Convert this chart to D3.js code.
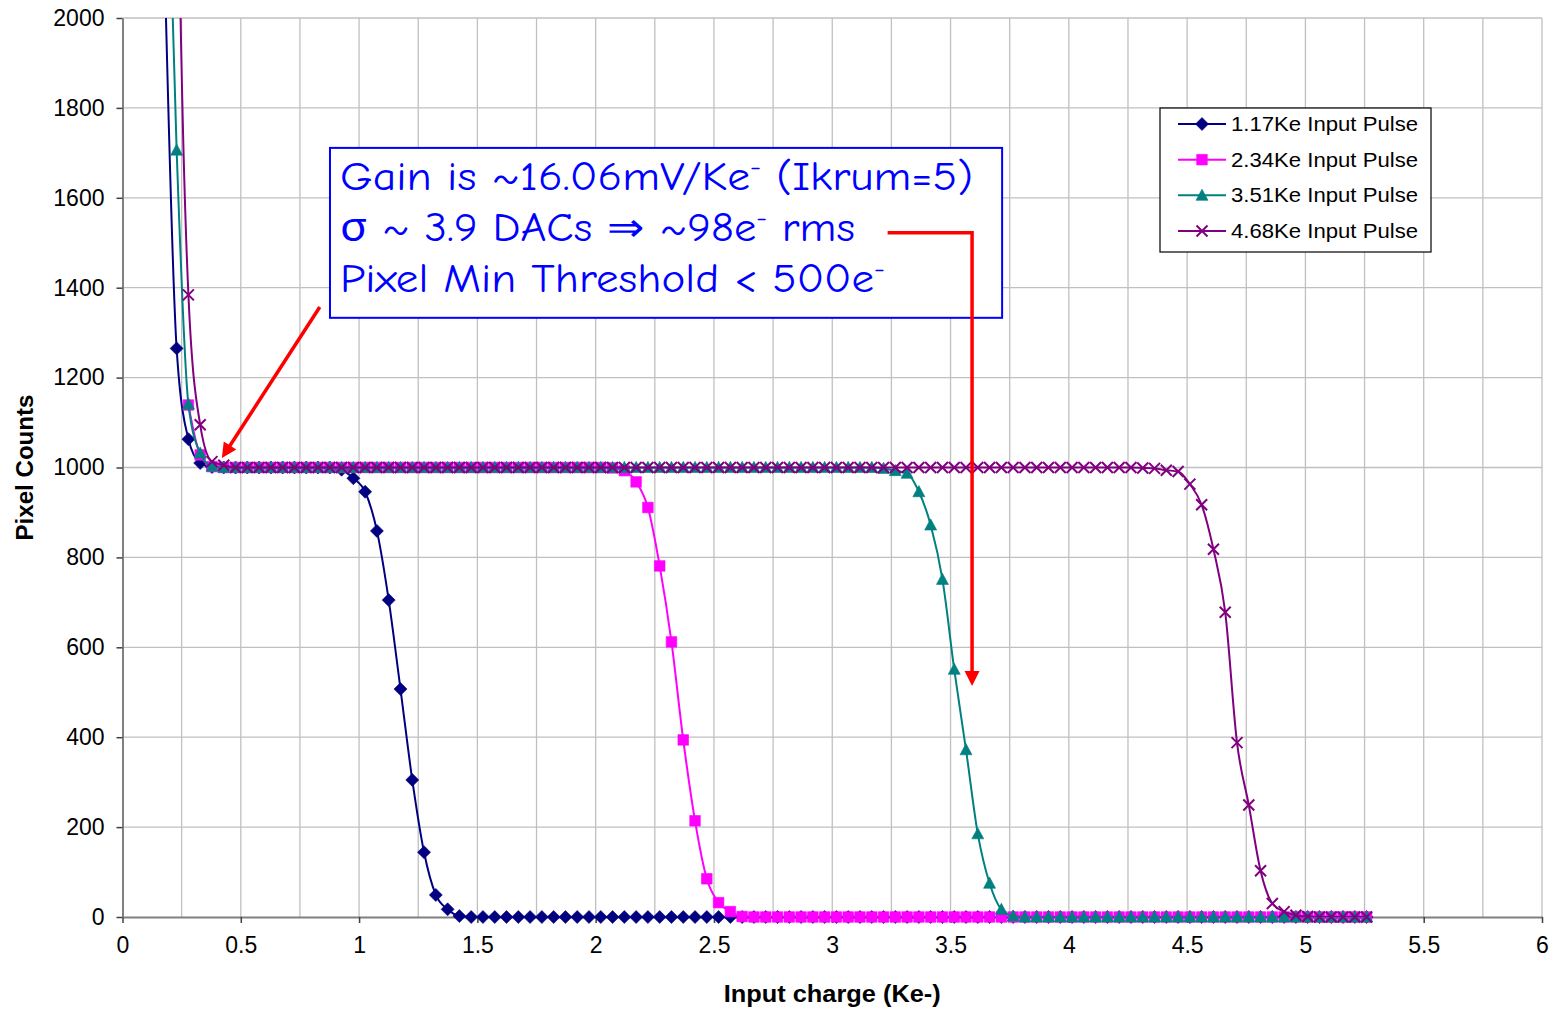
<!DOCTYPE html>
<html>
<head>
<meta charset="utf-8">
<script src="https://cdn.jsdelivr.net/npm/d3@7"></script>
<style>
body { margin: 0; background: #fff; }
text { font-family: "Liberation Sans", Arial, sans-serif; }
</style>
</head>
<body>
<svg id="chart" width="1553" height="1010"></svg>
<script>
// input charge (Ke-) of every scan step
var charge = [
	0.179, 0.2288, 0.2786, 0.3284, 0.3782, 0.428, 0.4778, 0.5276, 0.5774, 0.6272,
	0.677, 0.7268, 0.7766, 0.8264, 0.8762, 0.926, 0.9758, 1.0256, 1.0754, 1.1252,
	1.175, 1.2248, 1.2746, 1.3244, 1.3742, 1.424, 1.4738, 1.5236, 1.5734, 1.6232,
	1.673, 1.7228, 1.7726, 1.8224, 1.8722, 1.922, 1.9718, 2.0216, 2.0714, 2.1212,
	2.171, 2.2208, 2.2706, 2.3204, 2.3702, 2.42, 2.4698, 2.5196, 2.5694, 2.6192,
	2.669, 2.7188, 2.7686, 2.8184, 2.8682, 2.918, 2.9678, 3.0176, 3.0674, 3.1172,
	3.167, 3.2168, 3.2666, 3.3164, 3.3662, 3.416, 3.4658, 3.5156, 3.5654, 3.6152,
	3.665, 3.7148, 3.7646, 3.8144, 3.8642, 3.914, 3.9638, 4.0136, 4.0634, 4.1132,
	4.163, 4.2128, 4.2626, 4.3124, 4.3622, 4.412, 4.4618, 4.5116, 4.5614, 4.6112,
	4.661, 4.7108, 4.7606, 4.8104, 4.8602, 4.91, 4.9598, 5.0096, 5.0594, 5.1092,
	5.159, 5.2088, 5.2586
];

var pulse117 = [
	2100, 1265, 1063, 1010, 1001, 1000, 1000, 1000, 1000, 1000,
	1000, 1000, 1000, 1000, 1000, 995, 976, 946, 859, 705,
	507, 305, 144, 49, 17, 2, 0, 0, 0, 0,
	0, 0, 0, 0, 0, 0, 0, 0, 0, 0,
	0, 0, 0, 0, 0, 0, 0, 0, 0, 0,
	0, 0, 0, 0, 0, 0, 0, 0, 0, 0,
	0, 0, 0, 0, 0, 0, 0, 0, 0, 0,
	0, 0, 0, 0, 0, 0, 0, 0, 0, 0,
	0, 0, 0, 0, 0, 0, 0, 0, 0, 0,
	0, 0, 0, 0, 0, 0, 0, 0, 0, 0,
	0, 0, 0
];

var pulse234 = [
	null, null, 1139, 1028, 1002, 1000, 1000, 1000, 1000, 1000,
	1000, 1000, 1000, 1000, 1000, 1000, 1000, 1000, 1000, 1000,
	1000, 1000, 1000, 1000, 1000, 1000, 1000, 1000, 1000, 1000,
	1000, 1000, 1000, 1000, 1000, 1000, 1000, 1000, 999, 993,
	968, 911, 781, 612, 394, 214, 85, 32, 12, 1,
	0, 0, 0, 0, 0, 0, 0, 0, 0, 0,
	0, 0, 0, 0, 0, 0, 0, 0, 0, 0,
	0, 0, 0, 0, 0, 0, 0, 0, 0, 0,
	0, 0, 0, 0, 0, 0, 0, 0, 0, 0,
	0, 0, 0, 0, 0, 0, 0, 0, 0, 0,
	0, 0, 0
];

var pulse351 = [
	2600, 1706, 1141, 1032, 1003, 1000, 1000, 1000, 1000, 1000,
	1000, 1000, 1000, 1000, 1000, 1000, 1000, 1000, 1000, 1000,
	1000, 1000, 1000, 1000, 1000, 1000, 1000, 1000, 1000, 1000,
	1000, 1000, 1000, 1000, 1000, 1000, 1000, 1000, 1000, 1000,
	1000, 1000, 1000, 1000, 1000, 1000, 1000, 1000, 1000, 1000,
	1000, 1000, 1000, 1000, 1000, 1000, 1000, 1000, 1000, 1000,
	1000, 998, 993, 987, 946, 872, 751, 551, 372, 185,
	75, 17, 2, 0, 0, 0, 0, 0, 0, 0,
	0, 0, 0, 0, 0, 0, 0, 0, 0, 0,
	0, 0, 0, 0, 0, 0, 0, 0, 0, 0,
	0, 0, 0
];

var pulse468 = [
	6000, 2600, 1384, 1095, 1013, 1005, 1000, 1000, 1000, 1000,
	1000, 1000, 1000, 1000, 1000, 1000, 1000, 1000, 1000, 1000,
	1000, 1000, 1000, 1000, 1000, 1000, 1000, 1000, 1000, 1000,
	1000, 1000, 1000, 1000, 1000, 1000, 1000, 1000, 1000, 1000,
	1000, 1000, 1000, 1000, 1000, 1000, 1000, 1000, 1000, 1000,
	1000, 1000, 1000, 1000, 1000, 1000, 1000, 1000, 1000, 1000,
	1000, 1000, 1000, 1000, 1000, 1000, 1000, 1000, 1000, 1000,
	1000, 1000, 1000, 1000, 1000, 1000, 1000, 1000, 1000, 1000,
	1000, 1000, 1000, 999, 998, 994, 991, 963, 917, 818,
	678, 388, 249, 103, 30, 12, 4, 1, 0, 0,
	0, 0, 0
];

var seriesNames = ["1.17Ke Input Pulse", "2.34Ke Input Pulse", "3.51Ke Input Pulse", "4.68Ke Input Pulse"];
var seriesValues = [pulse117, pulse234, pulse351, pulse468];
var seriesColors = ["#000080", "#FF00FF", "#008080", "#800080"];
var seriesMarkers = ["diamond", "square", "triangle", "cross"];

var xTicks = [0, 0.5, 1, 1.5, 2, 2.5, 3, 3.5, 4, 4.5, 5, 5.5, 6];
var xTickLabels = ["0", "0.5", "1", "1.5", "2", "2.5", "3", "3.5", "4", "4.5", "5", "5.5", "6"];
var xGrid = [0.25, 0.5, 0.75, 1, 1.25, 1.5, 1.75, 2, 2.25, 2.5, 2.75, 3, 3.25, 3.5, 3.75, 4, 4.25, 4.5, 4.75, 5, 5.25, 5.5, 5.75, 6];
var yTicks = [0, 200, 400, 600, 800, 1000, 1200, 1400, 1600, 1800, 2000];

var svg = d3.select("#chart");
svg.append("rect").attr("width", 1553).attr("height", 1010).attr("fill", "#fff");

var x = d3.scaleLinear().domain([0, 6]).range([122.5, 1542]);
var y = d3.scaleLinear().domain([0, 2000]).range([917, 18]);

// grid
svg.append("g").selectAll("line").data(xGrid).enter().append("line")
	.attr("x1", d => x(d)).attr("x2", d => x(d))
	.attr("y1", y(2000)).attr("y2", y(0))
	.attr("stroke", "#C0C0C0").attr("stroke-width", 1.3);
svg.append("g").selectAll("line").data(yTicks.slice(1)).enter().append("line")
	.attr("x1", x(0)).attr("x2", x(6))
	.attr("y1", d => y(d)).attr("y2", d => y(d))
	.attr("stroke", "#C0C0C0").attr("stroke-width", 1.3);

// axes
var xAxis = svg.append("g")
	.attr("transform", "translate(0," + y(0) + ")")
	.call(d3.axisBottom(x).tickValues(xTicks).tickFormat((d, i) => xTickLabels[i]).tickSize(6).tickSizeOuter(0).tickPadding(14));
var yAxis = svg.append("g")
	.attr("transform", "translate(" + x(0) + ",0)")
	.call(d3.axisLeft(y).tickValues(yTicks).tickFormat(d3.format("d")).tickSize(6).tickSizeOuter(0).tickPadding(12));

[xAxis, yAxis].forEach(function(a)
{
	a.select(".domain").attr("stroke", "#808080").attr("stroke-width", 2);
	a.selectAll(".tick line").attr("stroke", "#404040").attr("stroke-width", 1.5);
	a.selectAll(".tick text").attr("fill", "#000").style("font-size", "23px")
		.style("font-family", "'Liberation Sans', Arial, sans-serif");
});

svg.append("text")
	.attr("x", x(3)).attr("y", 1002)
	.attr("text-anchor", "middle")
	.attr("textLength", 217).attr("lengthAdjust", "spacingAndGlyphs")
	.style("font-size", "23px").style("font-weight", "bold")
	.text("Input charge (Ke-)");

svg.append("text")
	.attr("transform", "translate(33," + y(1000) + ") rotate(-90)")
	.attr("text-anchor", "middle")
	.attr("textLength", 146).attr("lengthAdjust", "spacingAndGlyphs")
	.style("font-size", "23px").style("font-weight", "bold")
	.text("Pixel Counts");

// marker shapes
function markerPath(type)
{
	if (type == "diamond") return "M0,-6.5L6.5,0L0,6.5L-6.5,0Z";
	if (type == "square") return "M-5.3,-5.3h10.6v10.6h-10.6Z";
	if (type == "triangle") return "M0,-6.2L6,5L-6,5Z";
	return "M-5.5,-5.5L5.5,5.5M5.5,-5.5L-5.5,5.5";
}

svg.append("clipPath").attr("id", "plotClip")
	.append("rect").attr("x", x(0)).attr("y", y(2000))
	.attr("width", x(6) - x(0)).attr("height", y(0) - y(2000));

var line = d3.line()
	.defined(d => d[1] != null)
	.x(d => x(d[0]))
	.y(d => y(d[1]))
	.curve(d3.curveMonotoneX);

seriesValues.forEach(function(values, s)
{
	var pts = charge.map((c, i) => [c, values[i]]);
	var g = svg.append("g");
	g.append("path")
		.attr("d", line(pts))
		.attr("clip-path", "url(#plotClip)")
		.attr("fill", "none")
		.attr("stroke", seriesColors[s])
		.attr("stroke-width", 2);
	g.selectAll(".mk").data(pts.filter(p => p[1] != null && p[1] <= 2000)).enter().append("path")
		.attr("class", "mk")
		.attr("transform", p => "translate(" + x(p[0]) + "," + y(p[1]) + ")")
		.attr("d", markerPath(seriesMarkers[s]))
		.attr("fill", seriesMarkers[s] == "cross" ? "none" : seriesColors[s])
		.attr("stroke", seriesColors[s])
		.attr("stroke-width", seriesMarkers[s] == "cross" ? 2 : 0.6);
});

// legend
var legend = svg.append("g");
legend.append("rect")
	.attr("x", 1160).attr("y", 108).attr("width", 271).attr("height", 144)
	.attr("fill", "#fff").attr("stroke", "#000").attr("stroke-width", 1.2);
var legendRow = d3.scaleLinear().domain([0, 3]).range([124, 231]);
seriesNames.forEach(function(name, s)
{
	var ly = legendRow(s);
	legend.append("line")
		.attr("x1", 1178).attr("x2", 1226).attr("y1", ly).attr("y2", ly)
		.attr("stroke", seriesColors[s]).attr("stroke-width", 2);
	legend.append("path")
		.attr("transform", "translate(1202," + ly + ")")
		.attr("d", markerPath(seriesMarkers[s]))
		.attr("fill", seriesMarkers[s] == "cross" ? "none" : seriesColors[s])
		.attr("stroke", seriesColors[s])
		.attr("stroke-width", seriesMarkers[s] == "cross" ? 2 : 0.6);
	legend.append("text")
		.attr("x", 1231).attr("y", ly + 7)
		.attr("textLength", 187).attr("lengthAdjust", "spacingAndGlyphs")
		.style("font-size", "20px")
		.text(name);
});

// annotation box
var note = svg.append("g");
note.append("rect")
	.attr("x", x(0.877)).attr("y", y(1711))
	.attr("width", x(3.718) - x(0.877)).attr("height", y(1333) - y(1711))
	.attr("fill", "#fff").attr("stroke", "#0000FF").attr("stroke-width", 2);

var noteLines = [
	{ parts: ["Gain is ~16.06mV/Ke", "-", " (Ikrum=5)"], width: 633 },
	{ parts: ["\u03C3 ~ 3.9 DACs \u21D2 ~98e", "-", " rms"], width: 515 },
	{ parts: ["Pixel Min Threshold < 500e", "-"], width: 545 }
];
noteLines.forEach(function(ln, i)
{
	var t = note.append("text")
		.attr("x", 340).attr("y", 190 + i * 51)
		.attr("fill", "#0000FF")
		.attr("textLength", ln.width).attr("lengthAdjust", "spacingAndGlyphs")
		.style("font-family", "'Comic Sans MS', 'Comic Neue', 'Noto Sans', sans-serif")
		.style("font-size", "40px");
	ln.parts.forEach(function(p, j)
	{
		var ts = t.append("tspan").text(p);
		if (j == 1) ts.attr("dy", -15).style("font-size", "24px");
		if (j == 2) ts.attr("dy", 15);
	});
});

// red arrows
var arrows = svg.append("g").attr("stroke", "#FF0000").attr("fill", "#FF0000");
var a1 = [[0.834, 1357], [0.42, 1021]];
var p0 = [x(a1[0][0]), y(a1[0][1])], p1 = [x(a1[1][0]), y(a1[1][1])];
var ang = Math.atan2(p1[1] - p0[1], p1[0] - p0[0]);
function head(tip, a)
{
	var L = 15, W = 7.5;
	var bx = tip[0] - L * Math.cos(a), by = tip[1] - L * Math.sin(a);
	return "M" + tip[0] + "," + tip[1] +
		"L" + (bx + W * Math.sin(a)) + "," + (by - W * Math.cos(a)) +
		"L" + (bx - W * Math.sin(a)) + "," + (by + W * Math.cos(a)) + "Z";
}
arrows.append("line")
	.attr("x1", p0[0]).attr("y1", p0[1])
	.attr("x2", p1[0] - 12 * Math.cos(ang)).attr("y2", p1[1] - 12 * Math.sin(ang))
	.attr("stroke-width", 3.5);
arrows.append("path").attr("d", head(p1, ang)).attr("stroke", "none");

var a2 = [[3.234, 1522], [3.591, 1522], [3.591, 514]];
arrows.append("path")
	.attr("d", "M" + x(a2[0][0]) + "," + y(a2[0][1]) + "H" + x(a2[1][0]) + "V" + (y(a2[2][1]) - 12))
	.attr("fill", "none").attr("stroke-width", 3.5);
arrows.append("path").attr("d", head([x(a2[2][0]), y(a2[2][1])], Math.PI / 2)).attr("stroke", "none");
</script>
</body>
</html>
